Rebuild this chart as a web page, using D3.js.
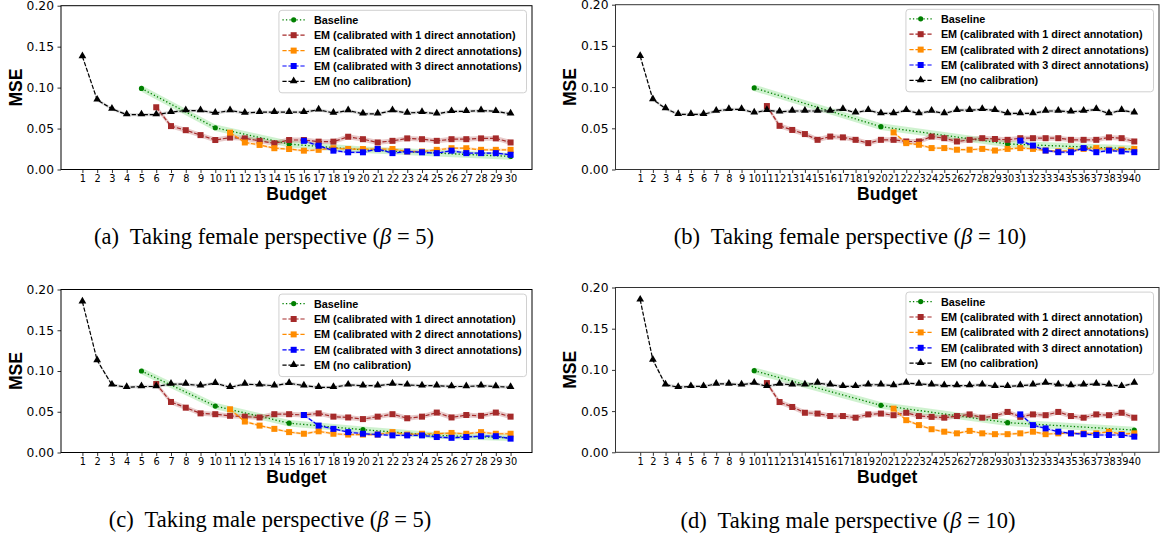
<!DOCTYPE html>
<html><head><meta charset="utf-8">
<script src="https://cdn.jsdelivr.net/npm/d3@7"></script>
<style>body{margin:0;background:#fff}svg{display:block}</style>
</head><body><svg id="c" width="1161" height="537"></svg>
<script>
// ---------- data ----------
const budgets30 = [1,2,3,4,5,6,7,8,9,10,11,12,13,14,15,16,17,18,19,20,21,22,23,24,25,26,27,28,29,30];
const budgets40 = [1,2,3,4,5,6,7,8,9,10,11,12,13,14,15,16,17,18,19,20,21,22,23,24,25,26,27,28,29,30,31,32,33,34,35,36,37,38,39,40];
const yTicks = [0.00, 0.05, 0.10, 0.15, 0.20];
const seriesNames = ["Baseline","EM (calibrated with 1 direct annotation)","EM (calibrated with 2 direct annotations)","EM (calibrated with 3 direct annotations)","EM (no calibration)"];
const seriesNamesD = ["Baseline","EM (calibrated with 1 direct annotation)","EM (calibrated with 2 direct annotations)","EM (calibrated with 3 direct annotation)","EM (no calibration)"];
const captionLetters = ["(a)","(b)","(c)","(d)"];
const captionTexts = ["Taking female perspective (","Taking female perspective (","Taking male perspective (","Taking male perspective ("];
const captionBetas = ["5","10","5","10"];
const ciHalf = [0.004, 0.003, 0.0015, 0.0015, 0.002];

// (a) female, beta = 5
const aBaselineX = [5,10,15,20,25,30];
const aBaseline = [0.099,0.051,0.031,0.024,0.020,0.016];
const aEm1Start = 6;
const aEm1 = [0.076,0.053,0.048,0.042,0.036,0.039,0.038,0.035,0.032,0.036,0.036,0.034,0.034,0.040,0.037,0.033,0.035,0.038,0.037,0.035,0.037,0.037,0.038,0.038,0.033];
const aEm2Start = 11;
const aEm2 = [0.045,0.033,0.030,0.026,0.025,0.023,0.024,0.026,0.025,0.025,0.025,0.025,0.022,0.022,0.024,0.026,0.026,0.024,0.024,0.024];
const aEm3Start = 16;
const aEm3 = [0.035,0.029,0.023,0.021,0.021,0.025,0.020,0.022,0.021,0.020,0.023,0.020,0.020,0.020,0.018];
const aNoCal = [0.138,0.085,0.074,0.067,0.067,0.067,0.070,0.072,0.072,0.069,0.072,0.069,0.070,0.070,0.070,0.070,0.073,0.069,0.072,0.068,0.068,0.072,0.069,0.070,0.068,0.071,0.071,0.072,0.071,0.068];

// (b) female, beta = 10
const bBaselineX = [10,20,30,40];
const bBaseline = [0.099,0.052,0.031,0.025];
const bEm1Start = 11;
const bEm1 = [0.077,0.053,0.048,0.043,0.036,0.040,0.039,0.036,0.032,0.036,0.036,0.034,0.034,0.040,0.038,0.034,0.036,0.038,0.037,0.036,0.038,0.038,0.038,0.038,0.036,0.036,0.036,0.039,0.038,0.034];
const bEm2Start = 21;
const bEm2 = [0.045,0.032,0.030,0.026,0.026,0.024,0.024,0.025,0.023,0.025,0.026,0.025,0.023,0.022,0.023,0.025,0.026,0.024,0.024,0.025];
const bEm3Start = 31;
const bEm3 = [0.035,0.029,0.023,0.021,0.021,0.026,0.021,0.023,0.022,0.021];
const bNoCal = [0.1375,0.085,0.074,0.067,0.067,0.067,0.071,0.073,0.073,0.069,0.072,0.070,0.071,0.071,0.071,0.071,0.073,0.069,0.072,0.068,0.068,0.072,0.068,0.071,0.068,0.072,0.072,0.073,0.072,0.068,0.068,0.068,0.071,0.071,0.070,0.071,0.073,0.068,0.072,0.069];

// (c) male, beta = 5
const cBaselineX = [5,10,15,20,25,30];
const cBaseline = [0.100,0.057,0.036,0.028,0.021,0.018];
const cEm1Start = 6;
const cEm1 = [0.084,0.062,0.055,0.048,0.047,0.045,0.044,0.043,0.047,0.047,0.046,0.048,0.044,0.043,0.041,0.044,0.047,0.042,0.044,0.049,0.043,0.046,0.045,0.049,0.044];
const cEm2Start = 11;
const cEm2 = [0.053,0.038,0.033,0.029,0.025,0.023,0.026,0.023,0.022,0.022,0.022,0.025,0.022,0.023,0.023,0.024,0.023,0.025,0.023,0.023];
const cEm3Start = 16;
const cEm3 = [0.046,0.033,0.029,0.025,0.023,0.022,0.021,0.021,0.021,0.019,0.018,0.019,0.020,0.020,0.017];
const cNoCal = [0.185,0.113,0.083,0.080,0.081,0.081,0.084,0.084,0.082,0.085,0.080,0.084,0.083,0.082,0.085,0.082,0.080,0.080,0.083,0.082,0.082,0.084,0.083,0.082,0.082,0.081,0.081,0.082,0.081,0.080];

// (d) male, beta = 10
const dBaselineX = [10,20,30,40];
const dBaseline = [0.099,0.057,0.036,0.027];
const dEm1Start = 11;
const dEm1 = [0.084,0.061,0.055,0.048,0.047,0.044,0.044,0.042,0.046,0.047,0.045,0.048,0.044,0.043,0.042,0.044,0.046,0.042,0.044,0.049,0.043,0.046,0.045,0.049,0.044,0.042,0.046,0.045,0.048,0.042];
const dEm2Start = 21;
const dEm2 = [0.053,0.039,0.033,0.028,0.025,0.023,0.026,0.023,0.022,0.022,0.023,0.025,0.022,0.023,0.023,0.023,0.023,0.025,0.022,0.023];
const dEm3Start = 31;
const dEm3 = [0.046,0.033,0.029,0.025,0.023,0.022,0.021,0.021,0.021,0.019];
const dNoCal = [0.185,0.112,0.082,0.079,0.080,0.080,0.083,0.083,0.082,0.084,0.080,0.083,0.082,0.082,0.084,0.082,0.080,0.080,0.082,0.082,0.081,0.084,0.083,0.082,0.081,0.081,0.081,0.082,0.080,0.080,0.081,0.082,0.084,0.082,0.081,0.082,0.083,0.082,0.080,0.084];

// ---------- styles ----------
const colors = ["#008000", "#a52a2a", "#ff8c00", "#0000ff", "#000000"];
const bandColors = ["#5fd35f", "#a52a2a", "#ff8c00", "#0000ff", "#555555"];
const bandOpacity = [0.3, 0.25, 0.25, 0.2, 0.2];
const dashes = ["1.3,2.2", "4.2,1.8", "4.2,1.8", "4.2,1.8", "4.2,1.8"];
const markers = ["circle", "square", "square", "square", "triangle"];

function seq(budgets, start, vals) {
  const i0 = budgets.indexOf(start);
  return vals.map((v, i) => ({x: budgets[i0 + i], y: v}));
}
function pts(xs, vals) { return vals.map((v, i) => ({x: xs[i], y: v})); }

const panels = [
  {budgets: budgets30, names: seriesNames, box: {l: 61, r: 532, t: 5.7, b: 169.5}, cap: {x: 264, y: 244}, spine: "#000",
   series: [pts(aBaselineX, aBaseline), seq(budgets30, aEm1Start, aEm1), seq(budgets30, aEm2Start, aEm2), seq(budgets30, aEm3Start, aEm3), pts(budgets30, aNoCal)]},
  {budgets: budgets40, names: seriesNames, box: {l: 615.5, r: 1159, t: 4.7, b: 169.5}, cap: {x: 850, y: 244}, spine: "#333",
   series: [pts(bBaselineX, bBaseline), seq(budgets40, bEm1Start, bEm1), seq(budgets40, bEm2Start, bEm2), seq(budgets40, bEm3Start, bEm3), pts(budgets40, bNoCal)]},
  {budgets: budgets30, names: seriesNames, box: {l: 61, r: 532, t: 289.5, b: 452.5}, cap: {x: 270, y: 527}, spine: "#000",
   series: [pts(cBaselineX, cBaseline), seq(budgets30, cEm1Start, cEm1), seq(budgets30, cEm2Start, cEm2), seq(budgets30, cEm3Start, cEm3), pts(budgets30, cNoCal)]},
  {budgets: budgets40, names: seriesNamesD, box: {l: 615.5, r: 1159, t: 287.5, b: 452.3}, cap: {x: 848, y: 528}, spine: "#333",
   series: [pts(dBaselineX, dBaseline), seq(budgets40, dEm1Start, dEm1), seq(budgets40, dEm2Start, dEm2), seq(budgets40, dEm3Start, dEm3), pts(budgets40, dNoCal)]}
];

const svg = d3.select("#c");

function drawMarker(g, type, cx, cy, color) {
  if (type === "circle") {
    g.append("circle").attr("cx", cx).attr("cy", cy).attr("r", 2.6).attr("fill", color);
  } else if (type === "square") {
    g.append("rect").attr("x", cx - 3).attr("y", cy - 3).attr("width", 6).attr("height", 6).attr("fill", color);
  } else {
    const s = d3.symbol().type(d3.symbolTriangle).size(26);
    g.append("path").attr("d", s()).attr("transform", `translate(${cx},${cy - 0.5})`).attr("fill", color);
  }
}

panels.forEach((p, pi) => {
  const n = p.budgets.length;
  const pad = (p.budgets[n - 1] - p.budgets[0]) * 0.05;
  const x = d3.scaleLinear().domain([p.budgets[0] - pad, p.budgets[n - 1] + pad]).range([p.box.l, p.box.r]);
  const y = d3.scaleLinear().domain([0, 0.2]).range([p.box.b, p.box.t]);
  const g = svg.append("g");

  // y axis
  const ya = g.append("g").attr("transform", `translate(${p.box.l},0)`)
    .call(d3.axisLeft(y).tickValues(yTicks).tickFormat(d3.format(".2f")).tickSize(3.5).tickPadding(3.5).tickSizeOuter(0));
  ya.select(".domain").remove();
  ya.selectAll("text").attr("font-family", "DejaVu Sans").attr("font-size", 12.3).attr("fill", "#000");
  ya.selectAll("line").attr("stroke", "#000").attr("stroke-width", 0.8);

  // x axis
  const xa = g.append("g").attr("transform", `translate(0,${p.box.b})`)
    .call(d3.axisBottom(x).tickValues(p.budgets).tickFormat(d3.format("d")).tickSize(3.5).tickPadding(2.5).tickSizeOuter(0));
  xa.select(".domain").remove();
  xa.selectAll("text").attr("font-family", "DejaVu Sans").attr("font-size", 9.8).attr("fill", "#000");
  xa.selectAll("line").attr("stroke", "#000").attr("stroke-width", 0.8);

  // plot content
  const plot = g.append("g");
  p.series.forEach((data, si) => {
    const area = d3.area().x(d => x(d.x)).y0(d => y(d.y - ciHalf[si])).y1(d => y(d.y + ciHalf[si]));
    plot.append("path").datum(data).attr("d", area).attr("fill", bandColors[si]).attr("fill-opacity", bandOpacity[si]);
    const line = d3.line().x(d => x(d.x)).y(d => y(d.y));
    plot.append("path").datum(data).attr("d", line).attr("fill", "none").attr("stroke", colors[si])
      .attr("stroke-width", si === 0 ? 1.3 : 1.2).attr("stroke-dasharray", dashes[si]);
    const mg = plot.append("g");
    data.forEach(d => drawMarker(mg, markers[si], x(d.x), y(d.y), colors[si]));
  });

  // spines
  g.append("rect").attr("x", p.box.l).attr("y", p.box.t).attr("width", p.box.r - p.box.l).attr("height", p.box.b - p.box.t)
    .attr("fill", "none").attr("stroke", p.spine).attr("stroke-width", 1);

  // axis labels
  g.append("text").text("Budget").attr("x", (p.box.l + p.box.r) / 2).attr("y", p.box.b + 30.5)
    .attr("text-anchor", "middle").attr("font-family", "Liberation Sans").attr("font-weight", "bold").attr("font-size", 17.5);
  g.append("text").text("MSE").attr("transform", `translate(${p.box.l - 39.5},${(p.box.t + p.box.b) / 2}) rotate(-90)`)
    .attr("text-anchor", "middle").attr("font-family", "Liberation Sans").attr("font-weight", "bold").attr("font-size", 17.5);

  // legend
  const lg = g.append("g");
  const frame = lg.append("rect").attr("rx", 3).attr("ry", 3).attr("fill", "#fff").attr("fill-opacity", 0.85)
    .attr("stroke", "#d0d0d0").attr("stroke-width", 1);
  const rowH = 15.4;
  let maxW = 0;
  const texts = [];
  p.names.forEach((name, si) => {
    const t = lg.append("text").text(name).attr("font-family", "Liberation Sans").attr("font-weight", "bold")
      .attr("font-size", 10.8).attr("dominant-baseline", "central");
    texts.push(t);
    maxW = Math.max(maxW, t.node().getComputedTextLength());
  });
  const bw = 35 + maxW + 5;
  const bx = p.box.r - 5.5 - bw;
  const by = p.box.t + 4.6;
  frame.attr("x", bx).attr("y", by).attr("width", bw).attr("height", 5 * rowH + 5.5);
  p.names.forEach((name, si) => {
    const cy = by + 9.5 + si * rowH;
    lg.append("line").attr("x1", bx + 3.5).attr("x2", bx + 26).attr("y1", cy).attr("y2", cy)
      .attr("stroke", colors[si]).attr("stroke-width", si === 0 ? 1.3 : 1.2).attr("stroke-dasharray", dashes[si]);
    drawMarker(lg, markers[si], bx + 14.75, cy, colors[si]);
    texts[si].attr("x", bx + 35).attr("y", cy);
  });

  // caption
  const cap = svg.append("text").attr("x", p.cap.x).attr("y", p.cap.y).attr("text-anchor", "middle")
    .attr("font-family", "Liberation Serif").attr("font-size", 22.5).attr("fill", "#000");
  cap.append("tspan").text(captionLetters[pi] + "\u00a0 " + captionTexts[pi]);
  cap.append("tspan").text("\u03b2").attr("font-style", "italic");
  cap.append("tspan").text(" = " + captionBetas[pi] + ")");
});
</script>
</body></html>
